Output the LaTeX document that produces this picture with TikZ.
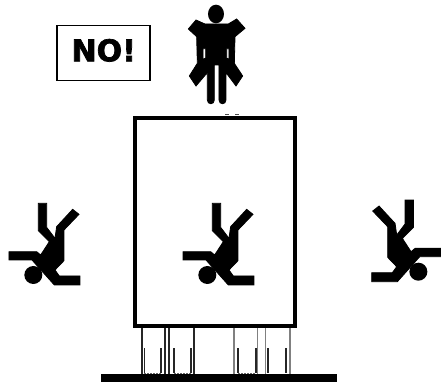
\documentclass[tikz,border=0pt]{standalone}
\usepackage{fontspec}
\setmainfont{DejaVu Sans}
\newfontfamily\nofont[FakeBold=2.4]{DejaVu Sans Bold}
\tikzset{
  figfill/.style={fill=black,draw=black,line width=0.8pt,line join=miter},
  darkpost/.style={line width=1.8pt,draw=black!85},
  greypost/.style={line width=1.3pt,draw=black!50},
  innerpost/.style={line width=1.6pt,draw=black!85},
  dotline/.style={line width=0.8pt,draw=black!60,dash pattern=on 1.5pt off 1.5pt},
  nobox/.style={draw=black,line width=1.5pt,minimum width=93pt,minimum height=55pt,inner sep=0pt,font=\nofont\fontsize{30}{30}\selectfont},
}
\newcommand{\fallfig}{%
  \path[figfill] (115,40)--(140,40)--(140,112)--(165,145)--(170,110)--(218,58)--(237,73)--(192,120)--(192,212)--(165,240)--(178,258)--(240,258)--(240,285)--(163,285)--(96,210)--(27,210)--(27,185)--(110,185)--(122,195)--(148,155)--(115,122)--cycle;
  \fill[black] (100,255) circle[radius=27];
}
\begin{document}
\begin{tikzpicture}[x=1pt,y=-1pt]
\useasboundingbox (0,0) rectangle (441,382);
\fill[white] (0,0) rectangle (441,382);
% NO! sign
\node[nobox] (no) at (103.7,53) {\raisebox{-8.3pt}[0pt][0pt]{NO!}};
% figure on top
\begin{scope}[shift={(170,0)},x=0.3333pt,y=-0.3333pt]
  \fill[black] (138,42) ellipse[x radius=24,y radius=28];
  \path[figfill,even odd rule] (105,72)--(78,60)--(55,87)--(80,110)--(82,190)--(58,228)--(78,258)--(112,218)--(112,300)
     .. controls (112,315) and (133,315) .. (133,300)--(133,195)--(147,195)--(147,300)
     .. controls (147,315) and (168,315) .. (168,300)--(168,218)--(198,258)--(218,228)--(193,190)--(195,110)--(225,85)--(200,57)--(175,72)--cycle
     (99,146)--(107,146)--(107,174)--(99,178)--cycle
     (170,146)--(177,146)--(177,178)--(170,174)--cycle;
\end{scope}
% marks above the box
\draw[line width=0.8pt,draw=black!70] (225,114.5)--(228.5,114.5) (235,114.5)--(238.5,114.5);
% box
\draw[black,line width=3.7pt] (135.3,118) rectangle (295,326);
% falling figures
\begin{scope}[shift={(0,190)},x=0.3333pt,y=-0.3333pt]\fallfig\end{scope}
\begin{scope}[shift={(174,190)},x=0.3333pt,y=-0.3333pt]\fallfig\end{scope}
\begin{scope}[shift={(451.7,186.7)},x=-0.3333pt,y=-0.3333pt]\fallfig\end{scope}
% posts
\foreach \x in {141.7,165,168.7,194.3} \draw[darkpost] (\x,328)--(\x,375);
\foreach \x in {234,257.7,265.7,290} \draw[greypost] (\x,328)--(\x,375);
\foreach \x in {144.3,161,174,191,238,255.7,267.7,285.7} \draw[innerpost] (\x,348)--(\x,373);
\foreach \a/\b in {144.3/161,174/191,238/255.7} \draw[dotline] (\a,373.7)--(\b,373.7);
% base
\fill[black] (101,374.3) rectangle (336.7,381.8);
\end{tikzpicture}
\end{document}
